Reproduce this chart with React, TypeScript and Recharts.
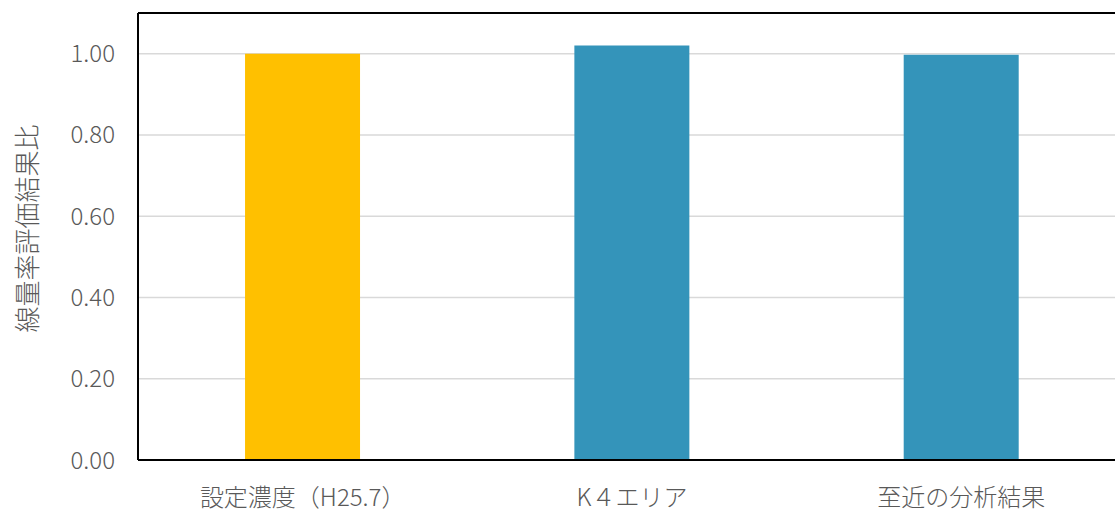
import { BarChart, Bar, XAxis, YAxis, CartesianGrid, Cell, ReferenceLine } from 'recharts'

const categories = ['設定濃度（H25.7）', 'K４エリア', '至近の分析結果']
const ratios = [1.0, 1.02, 0.997]
const yTicks = [0, 0.2, 0.4, 0.6, 0.8, 1.0]
const yLabel = '線量率評価結果比'

const COLORS = ['#FFC000', '#3494BA', '#3494BA']
const TEXT = '#595959'
const FONT = '"Noto Sans CJK JP", "Noto Sans", sans-serif'

const data = categories.map((name, i) => ({ name, value: ratios[i] }))

function AxisTitle({ viewBox }: any) {
  const cx = 25
  const cy = viewBox.y + viewBox.height / 2 - 8
  return (
    <text
      x={cx}
      y={cy}
      transform={`rotate(-90, ${cx}, ${cy})`}
      textAnchor="middle"
      dominantBaseline="central"
      fill={TEXT}
      fontSize={26}
      fontWeight={300}
      fontFamily={FONT}
    >
      {yLabel}
    </text>
  )
}

export default function App() {
  return (
    <div style={{ position: 'absolute', left: 0, top: 0, width: 1115, height: 512, overflow: 'hidden', background: '#fff' }}>
      <BarChart
        width={1130}
        height={512}
        data={data}
        margin={{ top: 13, right: 4, bottom: 0, left: 0 }}
        barCategoryGap="32.5%"
      >
        <CartesianGrid vertical={false} stroke="#D9D9D9" strokeWidth={1.5} />
        <XAxis
          dataKey="name"
          height={52}
          tickLine={false}
          tickMargin={23}
          axisLine={{ stroke: '#000', strokeWidth: 2 }}
          tick={{ fill: TEXT, fontSize: 24, fontWeight: 300, fontFamily: FONT }}
          interval={0}
        />
        <YAxis
          width={138}
          domain={[0, 1.1]}
          ticks={yTicks}
          tickFormatter={(v: number) => v.toFixed(2)}
          tickLine={false}
          tickMargin={17}
          axisLine={{ stroke: '#000', strokeWidth: 2 }}
          tick={{ fill: TEXT, fontSize: 24, fontWeight: 300, fontFamily: FONT }}
          label={<AxisTitle />}
        />
        <ReferenceLine y={1.1} stroke="#000" strokeWidth={2} />
        <Bar dataKey="value" isAnimationActive={false}>
          {data.map((entry, i) => (
            <Cell key={entry.name} fill={COLORS[i]} />
          ))}
        </Bar>
      </BarChart>
    </div>
  )
}
